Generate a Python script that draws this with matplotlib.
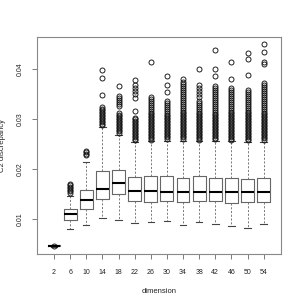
import matplotlib
matplotlib.use("Agg")
import matplotlib.pyplot as plt

plt.rcParams['font.family'] = ['Liberation Sans', 'DejaVu Sans']

# boxplot summaries
dims = [2, 6, 10, 14, 18, 22, 26, 30, 34, 38, 42, 46, 50, 54]
medians = [0.00466, 0.0110, 0.0138, 0.0161, 0.0173, 0.0157, 0.0156, 0.0155,
           0.0155, 0.0155, 0.0155, 0.0154, 0.0155, 0.0155]
q1 = [0.00460, 0.0099, 0.0121, 0.0140, 0.0150, 0.0137, 0.0135, 0.0137,
      0.0134, 0.0137, 0.0137, 0.0133, 0.0134, 0.0134]
q3 = [0.00472, 0.0121, 0.0159, 0.0197, 0.0199, 0.0184, 0.0186, 0.0187,
      0.0183, 0.0186, 0.0183, 0.0183, 0.0181, 0.0183]
whislo = [0.00440, 0.0081, 0.0088, 0.0103, 0.0098, 0.0093, 0.0094, 0.0097,
          0.0088, 0.0095, 0.0090, 0.0087, 0.0082, 0.0091]
whishi = [0.00490, 0.0147, 0.0215, 0.0283, 0.0268, 0.0254, 0.0255, 0.0256,
          0.0255, 0.0256, 0.0255, 0.0255, 0.0253, 0.0253]

outliers = [
    [0.0047],
    [0.0153, 0.0156, 0.0159, 0.0162, 0.0165, 0.0168, 0.0171],
    [0.0228, 0.0231, 0.0234, 0.0237],
    [0.0398, 0.0382, 0.0347, 0.0323, 0.0320, 0.0317, 0.0314, 0.0311, 0.0308,
     0.0305, 0.0302, 0.0299, 0.0296, 0.0293, 0.0290, 0.0287],
    [0.0365, 0.0346, 0.0342, 0.0338, 0.0334, 0.0330, 0.0326, 0.0311, 0.0308,
     0.0305, 0.0302, 0.0299, 0.0296, 0.0293, 0.0290, 0.0287, 0.0284, 0.0281,
     0.0278, 0.0275, 0.0272],
    [0.0378, 0.0368, 0.0362, 0.0356, 0.0350, 0.0342, 0.0315, 0.0302, 0.0299,
     0.0296, 0.0293, 0.0290, 0.0287, 0.0284, 0.0281, 0.0278, 0.0275, 0.0272,
     0.0269, 0.0266, 0.0263, 0.0260, 0.0257],
    [0.0413, 0.0344, 0.0340, 0.0336, 0.0332, 0.0328, 0.0324, 0.0320, 0.0316,
     0.0312, 0.0309, 0.0306, 0.0303, 0.0300, 0.0297, 0.0294, 0.0291, 0.0288,
     0.0285, 0.0282, 0.0279, 0.0276, 0.0273, 0.0270, 0.0267, 0.0264, 0.0261,
     0.0258],
    [0.0386, 0.0368, 0.0354, 0.0335, 0.0331, 0.0327, 0.0323, 0.0319, 0.0315,
     0.0311, 0.0308, 0.0305, 0.0302, 0.0299, 0.0296, 0.0293, 0.0290, 0.0287,
     0.0284, 0.0281, 0.0278, 0.0275, 0.0272, 0.0269, 0.0266, 0.0263, 0.0260],
    [0.0380, 0.0374, 0.0370, 0.0366, 0.0362, 0.0358, 0.0354, 0.0350, 0.0346,
     0.0342, 0.0338, 0.0334, 0.0330, 0.0326, 0.0322, 0.0318, 0.0314, 0.0311,
     0.0308, 0.0305, 0.0302, 0.0299, 0.0296, 0.0293, 0.0290, 0.0287, 0.0284,
     0.0281, 0.0278, 0.0275, 0.0272, 0.0269, 0.0266, 0.0263, 0.0260],
    [0.0399, 0.0368, 0.0362, 0.0356, 0.0350, 0.0344, 0.0336, 0.0332, 0.0328,
     0.0324, 0.0320, 0.0316, 0.0312, 0.0309, 0.0306, 0.0303, 0.0300, 0.0297,
     0.0294, 0.0291, 0.0288, 0.0285, 0.0282, 0.0279, 0.0276, 0.0273, 0.0270,
     0.0267, 0.0264, 0.0261, 0.0258],
    [0.0437, 0.0399, 0.0385, 0.0365, 0.0361, 0.0357, 0.0353, 0.0349, 0.0345,
     0.0341, 0.0337, 0.0333, 0.0329, 0.0325, 0.0321, 0.0317, 0.0313, 0.0310,
     0.0307, 0.0304, 0.0301, 0.0298, 0.0295, 0.0292, 0.0289, 0.0286, 0.0283,
     0.0280, 0.0277, 0.0274, 0.0271, 0.0268, 0.0265, 0.0262, 0.0259],
    [0.0413, 0.0379, 0.0362, 0.0358, 0.0354, 0.0350, 0.0346, 0.0342, 0.0338,
     0.0334, 0.0330, 0.0326, 0.0322, 0.0318, 0.0314, 0.0311, 0.0308, 0.0305,
     0.0302, 0.0299, 0.0296, 0.0293, 0.0290, 0.0287, 0.0284, 0.0281, 0.0278,
     0.0275, 0.0272, 0.0269, 0.0266, 0.0263, 0.0260, 0.0258],
    [0.0431, 0.0420, 0.0388, 0.0358, 0.0354, 0.0350, 0.0346, 0.0342, 0.0338,
     0.0334, 0.0330, 0.0326, 0.0322, 0.0318, 0.0314, 0.0311, 0.0308, 0.0305,
     0.0302, 0.0299, 0.0296, 0.0293, 0.0290, 0.0287, 0.0284, 0.0281, 0.0278,
     0.0275, 0.0272, 0.0269, 0.0266, 0.0263, 0.0260, 0.0257],
    [0.0450, 0.0433, 0.0413, 0.0410, 0.0371, 0.0367, 0.0363, 0.0359, 0.0355,
     0.0351, 0.0347, 0.0343, 0.0339, 0.0335, 0.0331, 0.0327, 0.0323, 0.0319,
     0.0315, 0.0312, 0.0309, 0.0306, 0.0303, 0.0300, 0.0297, 0.0294, 0.0291,
     0.0288, 0.0285, 0.0282, 0.0279, 0.0276, 0.0273, 0.0270, 0.0267, 0.0264,
     0.0261, 0.0258],
]

yticks = [0.01, 0.02, 0.03, 0.04]

stats = []
for i in range(len(dims)):
    stats.append({
        'med': medians[i], 'q1': q1[i], 'q3': q3[i],
        'whislo': whislo[i], 'whishi': whishi[i],
        'fliers': outliers[i], 'label': str(dims[i]),
    })

fig = plt.figure(figsize=(3, 3), dpi=100)
ax = fig.add_axes([0.123, 0.153, 0.813, 0.724])

positions = list(range(1, len(dims) + 1))
ax.bxp(stats, positions=positions, widths=0.8, capwidths=0.4,
       boxprops=dict(color='#666666', linewidth=0.8),
       whiskerprops=dict(color='#666666', linewidth=0.6, linestyle=(0, (2.5, 2))),
       capprops=dict(color='#444444', linewidth=0.8),
       medianprops=dict(color='black', linewidth=1.5),
       flierprops=dict(marker='o', markerfacecolor='none', markeredgecolor='#111111',
                       markersize=3.6, markeredgewidth=0.65))

ax.set_xlim(-0.06, 15.06)
ax.set_ylim(0.003, 0.0464)
ax.set_xticks(positions)
ax.set_xticklabels([str(d) for d in dims])
ax.set_yticks(yticks)
ax.set_yticklabels([f"{t:.2f}" for t in yticks], rotation=90, va='center')

ax.tick_params(axis='both', labelsize=5, length=3.5, width=0.6, color='#666666',
               labelcolor='#222222')
ax.tick_params(axis='x', pad=7)
ax.tick_params(axis='y', pad=6)
for s in ax.spines.values():
    s.set_color('#888888')
    s.set_linewidth(0.8)

ax.set_xlabel('dimension', fontsize=5.5, color='#222222', labelpad=9)
ax.set_ylabel('C2 discrepancy', fontsize=5.5, color='#222222', labelpad=8)

fig.savefig('out.png', dpi=100)
